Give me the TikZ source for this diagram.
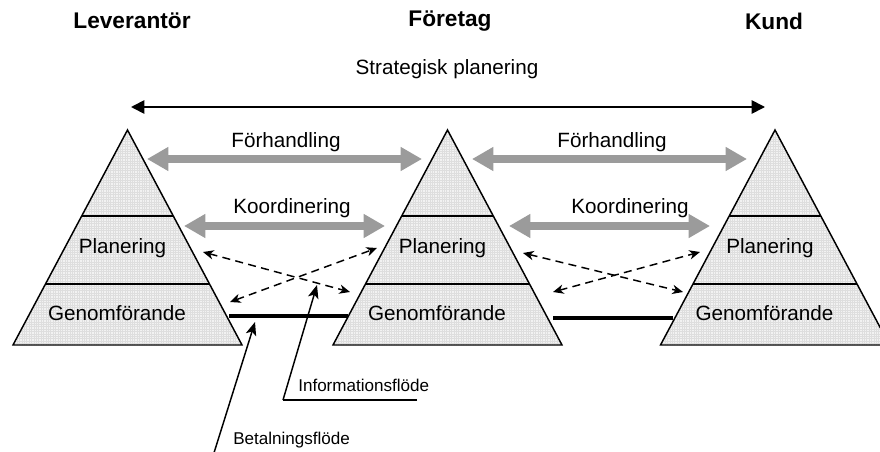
\documentclass[tikz,border=0pt]{standalone}
\usepackage{fontspec}
\setmainfont{Liberation Sans}
\usetikzlibrary{arrows.meta,calc}

\definecolor{arrowgray}{RGB}{155,155,155}
\definecolor{pyrgray}{RGB}{242,242,242}
\definecolor{gridgray}{RGB}{222,222,222}

\begin{document}
\begin{tikzpicture}[x=0.75pt,y=-0.75pt,
  lbl/.style={font=\fontsize{15.5}{18}\selectfont, inner sep=0pt},
  hdr/.style={font=\fontsize{17}{20}\selectfont\bfseries, inner sep=0pt},
  note/.style={font=\fontsize{12.8}{15}\selectfont, inner sep=0pt, anchor=west},
  pyredge/.style={line width=1.1pt, line join=miter},
  pyrgrid/.style={draw=gridgray, line width=0.15pt},
  grayarrow/.style={draw=arrowgray, line width=6pt,
    {Triangle[width=17pt,length=16pt]}-{Triangle[width=17pt,length=16pt]}},
  dasharrow/.style={line width=1.1pt, dash pattern=on 6pt off 4pt,
    {Stealth[length=8pt,width=7pt,inset=2.5pt]}-{Stealth[length=8pt,width=7pt,inset=2.5pt]}},
  flowline/.style={line width=2.6pt},
  pointer/.style={line width=1.1pt, -{Stealth[length=10pt,width=8pt,inset=2.5pt]}},
  stratarrow/.style={line width=1.3pt,
    {Triangle[width=10pt,length=10pt]}-{Triangle[width=10pt,length=10pt]}}
]
\useasboundingbox (0,0) rectangle (880,452);
\clip (0,0) rectangle (880,452);

% headers
\node[hdr] (hL) at (132,21) {Leverantör};
\node[hdr] (hM) at (450,21) {Företag};
\node[hdr] (hR) at (774,21) {Kund};

% strategic planning arrow
\node[lbl] (strat) at (447,69) {Strategisk planering};
\coordinate (sA) at (131,107);
\coordinate (sB) at (765,107);
\draw[stratarrow] (sA) -- (sB);

% the three pyramids
\foreach \n/\c in {L/127.5,M/447.5,R/775}{
  \coordinate (\n-top) at (\c,130);
  \coordinate (\n-bl) at (\c-114.5,345);
  \coordinate (\n-br) at (\c+114.5,345);
  \begin{scope}
    \clip (\n-top) -- (\n-bl) -- (\n-br) -- cycle;
    \fill[pyrgray] (\c-120,125) rectangle (\c+120,350);
    \draw[pyrgrid, step=1.8pt] (\c-120,125) grid (\c+120,350);
  \end{scope}
  \draw[pyredge] (\n-top) -- (\n-bl) -- (\n-br) -- cycle;
  \draw[pyredge] ($(\n-top)!0.4!(\n-bl)$) -- ($(\n-top)!0.4!(\n-br)$);
  \draw[pyredge] ($(\n-top)!0.716!(\n-bl)$) -- ($(\n-top)!0.716!(\n-br)$);
  \node[lbl] (\n-plan) at (\c-5,248) {Planering};
  \node[lbl] (\n-gen) at (\c-10.5,313) {Genomförande};
}

% negotiation and coordination
\node[lbl] (f1) at (286,142) {Förhandling};
\node[lbl] (f2) at (612,142) {Förhandling};
\node[lbl] (k1) at (292,208) {Koordinering};
\node[lbl] (k2) at (630,208) {Koordinering};

\coordinate (f1a) at (147,159); \coordinate (f1b) at (422,159);
\coordinate (f2a) at (472,159); \coordinate (f2b) at (747,159);
\coordinate (k1a) at (184,226); \coordinate (k1b) at (385,226);
\coordinate (k2a) at (509,226); \coordinate (k2b) at (710,226);
\draw[grayarrow] (f1a) -- (f1b);
\draw[grayarrow] (f2a) -- (f2b);
\draw[grayarrow] (k1a) -- (k1b);
\draw[grayarrow] (k2a) -- (k2b);

% information exchange between levels
\coordinate (d1a) at (203,252); \coordinate (d1b) at (350,292);
\coordinate (d2a) at (230,302); \coordinate (d2b) at (377,248);
\coordinate (d3a) at (523,253); \coordinate (d3b) at (683,292);
\coordinate (d4a) at (553,292); \coordinate (d4b) at (700,252);
\draw[dasharrow] (d1a) -- (d1b);
\draw[dasharrow] (d2a) -- (d2b);
\draw[dasharrow] (d3a) -- (d3b);
\draw[dasharrow] (d4a) -- (d4b);

% payment flow
\coordinate (p1a) at (229,316); \coordinate (p1b) at (348,316);
\coordinate (p2a) at (553,318); \coordinate (p2b) at (673,318);
\draw[flowline] (p1a) -- (p1b);
\draw[flowline] (p2a) -- (p2b);

% callouts
\node[note] (info) at (298,385) {Informationsflöde};
\coordinate (iCorner) at (283,400);
\coordinate (iEnd) at (417,400);
\coordinate (iTip) at (317,285);
\draw[line width=1.1pt] (iEnd) -- (iCorner);
\draw[pointer] (iCorner) -- (iTip);

\node[note] (pay) at (233,440) {Betalningsflöde};
\coordinate (bFoot) at (213,456);
\coordinate (bTip) at (255,322);
\draw[pointer] (bFoot) -- (bTip);
\end{tikzpicture}
\end{document}
